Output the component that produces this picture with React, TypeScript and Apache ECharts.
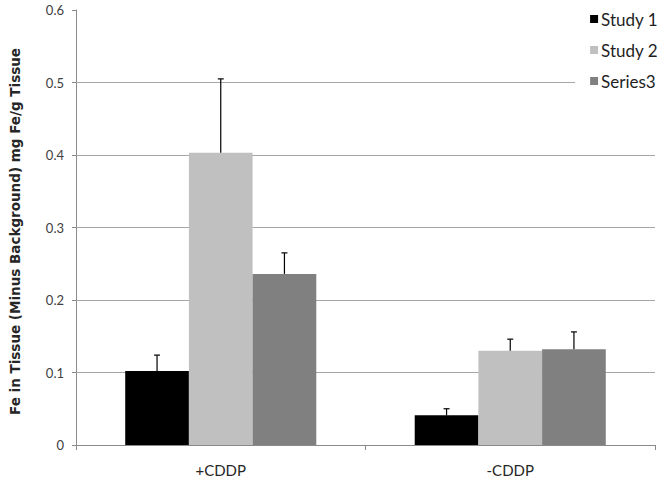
import React, { useEffect, useRef } from "react";
import * as echarts from "echarts";

const categories = ["+CDDP", "-CDDP"];
const seriesNames = ["Study 1", "Study 2", "Series3"];
const study1 = [0.102, 0.041];
const study2 = [0.403, 0.13];
const series3 = [0.236, 0.132];
const study1Err = [0.022, 0.009];
const study2Err = [0.102, 0.016];
const series3Err = [0.029, 0.024];
const gridValues = [0.1, 0.2, 0.3, 0.4, 0.5];
const colors = ["#000000", "#c0c0c0", "#808080"];

export default function App() {
  const ref = useRef<HTMLDivElement>(null);
  useEffect(() => {
    if (!ref.current) return;
    const chart = echarts.init(ref.current, undefined, { renderer: "svg" });
    const values = [study1, study2, series3];
    const errs = [study1Err, study2Err, series3Err];
    const catGap = 0.34;
    const barSeries: any[] = seriesNames.map((name, i) => ({
      name,
      type: "bar",
      data: values[i],
      barGap: "0%",
      barCategoryGap: "34%",
      itemStyle: { color: colors[i] },
      z: 2,
      ...(i === 0
        ? {
            markLine: {
              silent: true,
              symbol: "none",
              label: { show: false },
              lineStyle: { color: "#a6a6a6", width: 1, type: "solid" },
              data: gridValues.map((v) => ({ yAxis: v })),
              z: 1,
            },
          }
        : {}),
    }));
    const errSeries: any[] = seriesNames.map((name, i) => ({
      name: name + "_err",
      type: "custom",
      z: 3,
      data: values[i].map((v, k) => [k, v, v + errs[i][k]]),
      renderItem: (params: any, api: any) => {
        const k = api.value(0);
        const base = api.coord([k, api.value(1)]);
        const top = api.coord([k, api.value(2)]);
        const band = api.size([1, 0])[0];
        const bw = (band * (1 - catGap)) / 3;
        const x = base[0] + (i - 1) * bw;
        const style = { stroke: "#000000", lineWidth: 1.2 };
        return {
          type: "group",
          children: [
            { type: "line", shape: { x1: x, y1: base[1], x2: x, y2: top[1] }, style },
            { type: "line", shape: { x1: x - 3, y1: top[1], x2: x + 3, y2: top[1] }, style },
          ],
        };
      },
    }));
    chart.setOption({
      animation: false,
      backgroundColor: "#ffffff",
      grid: { left: 74, right: 9, top: 10, bottom: 41 },
      legend: {
        data: seriesNames,
        orient: "vertical",
        right: 0,
        top: 0,
        itemWidth: 8,
        itemHeight: 8,
        itemGap: 11,
        backgroundColor: "#ffffff",
        padding: [9, 6, 6, 15],
        icon: "rect",
        textStyle: { fontFamily: "Lato", fontSize: 17, lineHeight: 20, color: "#1f1f1f", padding: [0, 0, 0, -2] },
      },
      xAxis: {
        type: "category",
        data: categories,
        axisLine: { show: true, lineStyle: { color: "#8a8a8a" } },
        axisTick: { show: true, length: 5, lineStyle: { color: "#8a8a8a" } },
        axisLabel: { fontFamily: "Lato", fontSize: 15, color: "#262626", margin: 17 },
      },
      yAxis: {
        type: "value",
        min: 0,
        max: 0.6,
        interval: 0.1,
        name: "Fe in Tissue (Minus Background) mg Fe/g Tissue",
        nameLocation: "middle",
        nameGap: 54,
        nameTextStyle: {
          fontFamily: "DejaVu Sans",
          fontWeight: "bold",
          fontSize: 13.5,
          color: "#262626",
          padding: [0, 0, 0, -8],
        },
        axisLine: { show: true, lineStyle: { color: "#8a8a8a" } },
        axisTick: { show: true, length: 4, lineStyle: { color: "#8a8a8a" } },
        splitLine: { show: false },
        axisLabel: {
          fontFamily: "Lato",
          fontSize: 13,
          color: "#404040",
          margin: 12,
          formatter: (v: number) => (v === 0 ? "0" : String(Math.round(v * 10) / 10)),
        },
      },
      series: [...barSeries, ...errSeries],
    });
    return () => chart.dispose();
  }, []);
  return <div ref={ref} style={{ width: 664, height: 486, position: "absolute", left: 0, top: 0 }} />;
}
